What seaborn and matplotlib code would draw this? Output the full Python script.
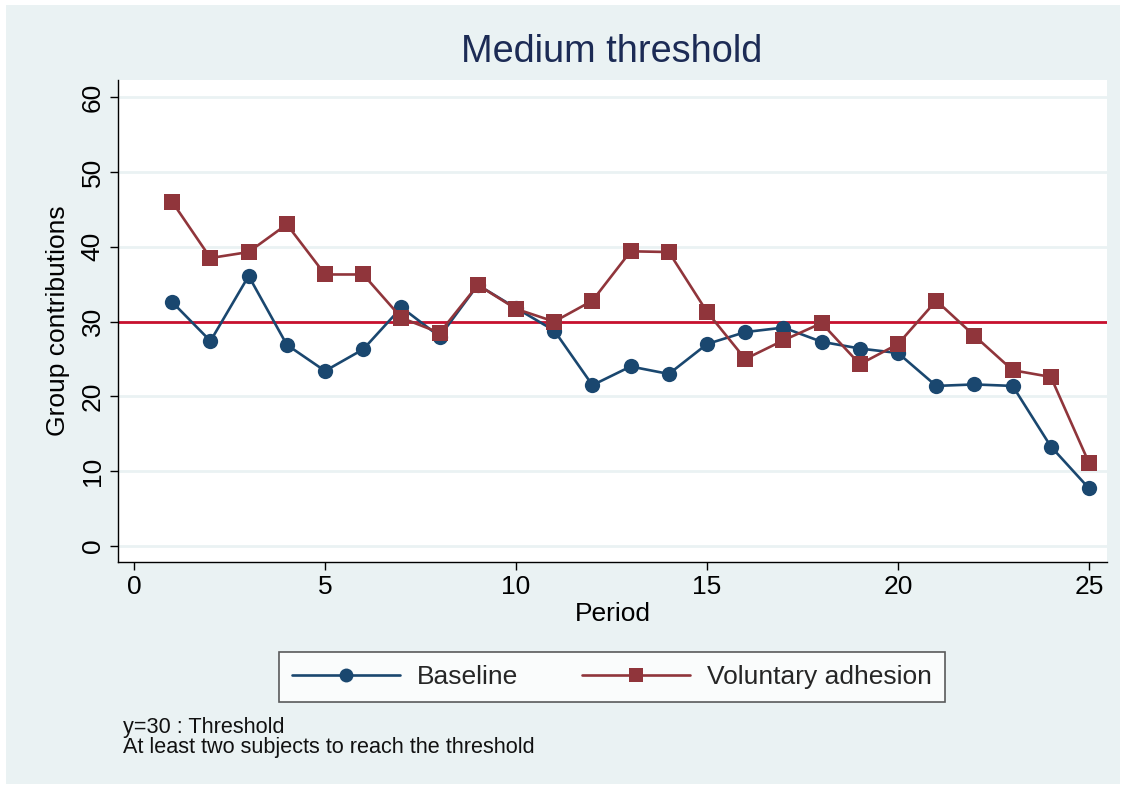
import pandas as pd
import matplotlib
matplotlib.use("Agg")
import matplotlib.pyplot as plt
import seaborn as sns
from matplotlib.patches import Rectangle
from matplotlib.lines import Line2D

# values
periods = list(range(1, 26))
baseline = [32.6, 27.4, 36.1, 26.9, 23.4, 26.3, 31.9, 28.0, 34.9, 31.8,
            28.8, 21.5, 24.0, 23.0, 27.0, 28.6, 29.2, 27.3, 26.4, 25.8,
            21.4, 21.6, 21.4, 13.3, 7.7]
voluntary = [46.0, 38.5, 39.3, 43.0, 36.3, 36.3, 30.5, 28.5, 34.9, 31.7,
             30.0, 32.8, 39.4, 39.3, 31.3, 25.0, 27.5, 29.8, 24.3, 27.0,
             32.8, 28.1, 23.5, 22.6, 11.1]
groups = ["Baseline", "Voluntary adhesion"]
threshold = 30
yticks = [0, 10, 20, 30, 40, 50, 60]
xticks = [0, 5, 10, 15, 20, 25]
notes = ["y=30 : Threshold", "At least two subjects to reach the threshold"]

df = pd.DataFrame({
    "period": periods * 2,
    "value": baseline + voluntary,
    "group": [groups[0]] * len(periods) + [groups[1]] * len(periods),
})

navy = "#1A476F"
maroon = "#90353B"
bg = "#EAF2F3"

sns.set_theme(style="white")
plt.rcParams["font.family"] = ["Liberation Sans", "DejaVu Sans"]

fig = plt.figure(figsize=(11.26, 7.89), dpi=100, facecolor="white")
fig.patches.append(Rectangle((6 / 1126, 5 / 789), 1 - 12 / 1126, 1 - 10 / 789,
                             transform=fig.transFigure, facecolor=bg,
                             edgecolor="none", zorder=-10))
ax = fig.add_axes([118 / 1126, 1 - 562 / 789, (1107 - 118) / 1126, (562 - 80) / 789])
ax.set_facecolor("white")

# stata-like grid + threshold line
for y in yticks:
    ax.axhline(y, color=bg, lw=2, zorder=0)
ax.axhline(threshold, color="#C8102E", lw=2, zorder=1)

sns.lineplot(data=df, x="period", y="value", hue="group", style="group",
             palette={groups[0]: navy, groups[1]: maroon},
             markers={groups[0]: "o", groups[1]: "s"}, dashes=False,
             markersize=11, markeredgewidth=0, linewidth=1.9,
             legend=False, ax=ax, zorder=3)

ax.set_xlim(-0.42, 25.47)
ax.set_ylim(-2.14, 62.3)
ax.set_xticks(xticks)
ax.set_yticks(yticks)
ax.tick_params(axis="both", direction="out", length=6, width=1, color="black",
               labelsize=19, labelcolor="black", bottom=True, left=True)
for lab in ax.get_yticklabels():
    lab.set_rotation(90)
    lab.set_va("center")
for side in ["top", "right"]:
    ax.spines[side].set_visible(False)
for side in ["left", "bottom"]:
    ax.spines[side].set_color("black")
    ax.spines[side].set_linewidth(1)

ax.set_xlabel("Period", fontsize=19, color="black", labelpad=2)
ax.set_ylabel("Group contributions", fontsize=19, color="black", labelpad=8)

fig.text(612 / 1126, 1 - 52 / 789, "Medium threshold", fontsize=27.3, color="#1C2B55",
         ha="center", va="center")

handles = [
    Line2D([], [], color=navy, marker="o", markersize=10, markeredgewidth=0, lw=1.9),
    Line2D([], [], color=maroon, marker="s", markersize=10, markeredgewidth=0, lw=1.9),
]
leg = fig.legend(handles, groups, loc="center", bbox_to_anchor=(612 / 1126, 1 - 677 / 789),
                 ncol=2, fontsize=19, frameon=True, fancybox=False, handlelength=4.1,
                 columnspacing=2.4, handletextpad=0.65, borderpad=0.5, borderaxespad=0)
leg.get_frame().set_edgecolor("#333333")
leg.get_frame().set_linewidth(1.2)
leg.get_frame().set_facecolor("white")

fig.text(123 / 1126, 1 - 727 / 789, notes[0], fontsize=15.6, color="#111111",
         ha="left", va="center")
fig.text(123 / 1126, 1 - 747 / 789, notes[1], fontsize=15.6, color="#111111",
         ha="left", va="center")

fig.savefig("out.png", dpi=100, facecolor=fig.get_facecolor())
